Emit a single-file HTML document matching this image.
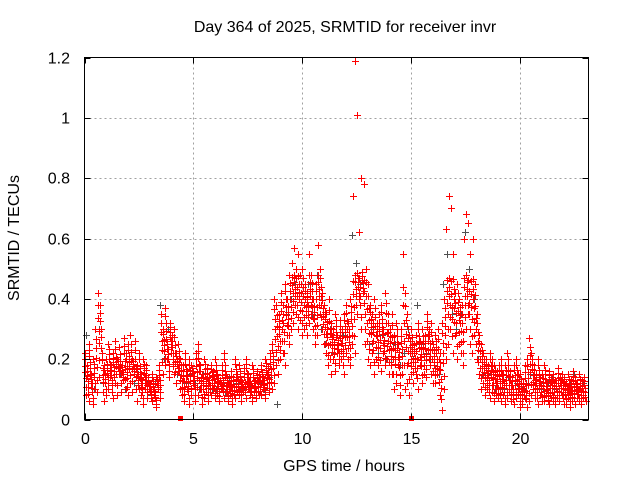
<!DOCTYPE html>
<html><head><meta charset="utf-8"><style>
body{margin:0;background:#fff}
svg{display:block}
text{font-family:"Liberation Sans",sans-serif;font-size:16px;fill:#000}
</style></head><body>
<svg id="chart" width="640" height="480">
<rect width="640" height="480" fill="#fff"/>
<g id="grid"></g>
<g id="gray"></g>
<g id="red"></g>
<rect x="84.5" y="57.5" width="504" height="362" fill="none" stroke="#000"/>
<g id="ticks"></g>
<text x="345" y="32" text-anchor="middle">Day 364 of 2025, SRMTID for receiver invr</text>
<text x="344" y="471" text-anchor="middle">GPS time / hours</text>
<text transform="translate(19,238) rotate(-90)" text-anchor="middle">SRMTID / TECUs</text>
</svg>
<script>
const xTicks=[0,5,10,15,20];
const yTicks=[0,0.2,0.4,0.6,0.8,1,1.2];
const yTickLabels=["0","0.2","0.4","0.6","0.8","1","1.2"];
const redStep=0.1;
const redUpper=[.22,.18,.25,.15,.20,.30,.42,.38,.22,.18,
.20,.25,.18,.22,.26,.20,.24,.18,.27,.22,
.25,.28,.20,.26,.18,.22,.15,.20,.18,.14,
.12,.15,.10,.14,.18,.35,.30,.37,.25,.32,
.28,.30,.22,.25,.20,.18,.22,.16,.20,.18,
.16,.22,.25,.18,.15,.20,.17,.14,.18,.16,
.20,.15,.13,.18,.22,.15,.12,.16,.14,.20,
.15,.18,.13,.17,.20,.15,.14,.18,.13,.16,
.15,.18,.14,.20,.17,.22,.25,.40,.38,.35,
.42,.38,.45,.40,.48,.52,.57,.50,.55,.48,
.50,.45,.42,.55,.48,.40,.45,.58,.50,.42,
.38,.35,.40,.32,.30,.35,.28,.33,.30,.35,
.38,.32,.40,.74,1.19,1.01,.62,.80,.78,.50,
.45,.38,.35,.40,.32,.35,.38,.30,.42,.35,
.30,.35,.28,.32,.25,.30,.55,.42,.35,.28,
.30,.25,.28,.32,.26,.30,.28,.35,.30,.32,
.25,.28,.30,.22,.32,.40,.63,.74,.70,.55,
.42,.45,.40,.38,.60,.68,.65,.55,.60,.45,
.35,.28,.25,.22,.20,.18,.22,.20,.18,.16,
.18,.20,.15,.18,.22,.16,.14,.18,.20,.15,
.15,.12,.18,.20,.27,.22,.18,.15,.20,.14,
.15,.18,.12,.16,.14,.15,.13,.17,.14,.15,
.14,.12,.15,.13,.16,.14,.12,.15,.13,.14];
const redLower=[.08,.06,.12,.05,.10,.09,.14,.20,.06,.08,
.10,.14,.07,.12,.08,.15,.09,.13,.10,.08,
.12,.09,.15,.06,.10,.08,.05,.10,.07,.09,
.06,.08,.04,.10,.07,.15,.18,.20,.14,.22,
.15,.12,.16,.10,.08,.06,.10,.05,.08,.12,
.06,.08,.10,.05,.07,.09,.06,.08,.10,.07,
.08,.06,.10,.07,.09,.06,.08,.05,.07,.09,
.08,.06,.09,.07,.10,.08,.06,.09,.07,.08,
.08,.10,.07,.12,.09,.10,.12,.18,.15,.20,
.22,.18,.28,.25,.30,.32,.35,.30,.33,.28,
.30,.28,.32,.35,.30,.25,.28,.35,.30,.25,
.22,.18,.15,.20,.16,.22,.18,.20,.15,.22,
.20,.18,.25,.22,.35,.40,.30,.42,.25,.20,
.18,.22,.15,.20,.18,.16,.22,.18,.20,.15,
.15,.10,.12,.18,.08,.15,.10,.12,.08,.15,
.12,.15,.10,.18,.12,.15,.14,.20,.15,.12,
.12,.15,.08,.03,.10,.20,.25,.30,.22,.28,
.20,.25,.22,.18,.30,.35,.25,.22,.28,.20,
.15,.10,.12,.08,.10,.07,.09,.06,.08,.07,
.06,.08,.05,.07,.09,.06,.05,.07,.08,.04,
.05,.07,.04,.06,.08,.10,.07,.05,.08,.06,
.06,.08,.05,.07,.06,.05,.07,.06,.08,.05,
.05,.07,.04,.06,.05,.07,.06,.05,.07,.06];
const grayStep=0.2;
const grayValues=[.28,.15,.10,.30,.12,.18,.12,.20,.15,.10,.20,.12,.15,.10,.12,
.08,.12,.38,.20,.30,.20,.15,.10,.12,.15,.12,.10,.15,.12,.10,.10,.12,.09,.14,.11,
.12,.10,.14,.11,.09,.12,.10,.14,.20,.05,.30,.35,.40,.45,.40,.38,.45,.35,.48,.30,
.25,.30,.22,.25,.28,.30,.61,.52,.45,.30,.25,.30,.22,.28,.20,.20,.25,.18,.22,.30,
.20,.38,.25,.22,.20,.18,.15,.45,.55,.35,.30,.35,.62,.50,.40,.20,.15,.12,.15,.10,
.12,.10,.14,.09,.12,.10,.12,.15,.10,.12,.10,.12,.14,.10,.12,.10,.12,.15,.10,.12];
const zeroMarkTimes=[4.4,15.0];

const X0=84.5,X1=588.5,Y0=419.5,Y1=57.5,XMAX=23.12,YMAX=1.2;
const xs=t=>X0+(X1-X0)*t/XMAX;
const ys=v=>Y0-(Y0-Y1)*v/YMAX;
const NS="http://www.w3.org/2000/svg";
function mk(tag,attrs,parent){const e=document.createElementNS(NS,tag);for(const k in attrs)e.setAttribute(k,attrs[k]);parent.appendChild(e);return e;}
const grid=document.getElementById('grid'),ticks=document.getElementById('ticks');
xTicks.forEach((t,i)=>{const x=Math.round(xs(t))+0.5;
 if(i>0){const l=mk('line',{x1:x,x2:x,y1:Y1,y2:Y0,stroke:'#a0a0a0','stroke-dasharray':'2,3'},grid);
 
 }
 mk('line',{x1:x,x2:x,y1:Y0,y2:Y0-6,stroke:'#000'},ticks);mk('line',{x1:x,x2:x,y1:Y1,y2:Y1+6,stroke:'#000'},ticks);
 const tx=mk('text',{x:x,y:444,'text-anchor':'middle'},ticks);tx.textContent=t;
 
 });
yTicks.forEach((v,i)=>{const y=Math.round(ys(v))+0.5;
 if(i>0&&i<yTicks.length-1){const l=mk('line',{x1:X0,x2:X1,y1:y,y2:y,stroke:'#a0a0a0','stroke-dasharray':'2,3'},grid);
 
 }
 mk('line',{x1:X0,x2:X0+6,y1:y,y2:y,stroke:'#000'},ticks);mk('line',{x1:X1,x2:X1-6,y1:y,y2:y,stroke:'#000'},ticks);
 const tx=mk('text',{x:70,y:y+5,'text-anchor':'end'},ticks);tx.textContent=yTickLabels[i];
 
 });
function cross(x,y){x=Math.round(x)+0.5;y=Math.round(y)+0.5;return `M${x-3.5},${y}h7M${x},${y-3.5}v7`;}
let gd='';
grayValues.forEach((v,i)=>{gd+=cross(xs(i*grayStep+0.05),ys(v));});
const gp=mk('path',{d:gd,stroke:'#505050','stroke-width':1,fill:'none'},document.getElementById('gray'));


let rd='';
const mixes=[0,0.15,0.3,0.45,0.6,0.8,1];
redUpper.forEach((v,i)=>{const t=i*redStep,l=redLower[i];
 const base=Math.min(v,0.5);
 mixes.forEach((m,k)=>{const val=k===0?v:l+(base-l)*(1-m);rd+=cross(xs(t+k*redStep/mixes.length),ys(k===0?v:(k===mixes.length-1?l:val)));});});
const rp=mk('path',{d:rd,stroke:'#ff0000','stroke-width':1,fill:'none'},document.getElementById('red'));


zeroMarkTimes.forEach(t=>{const r=mk('rect',{x:Math.round(xs(t))-2,y:416,width:5,height:5,fill:'#ff0000'},document.getElementById('red'));
 
 });
</script>
</body></html>
